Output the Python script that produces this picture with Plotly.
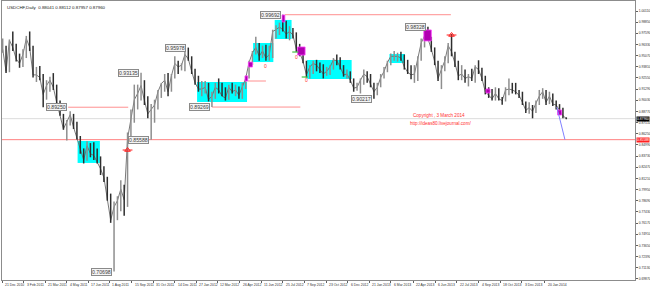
import numpy as np
import pandas as pd
import plotly.graph_objects as go

# ---------------- data (weekly bars) ----------------
first_week = "2010-12-22"
high = [0.9700,0.9620,0.9690,0.9780,0.9640,0.9530,0.9580,0.9730,0.9780,0.9620,
        0.9380,0.9390,0.9300,0.9230,0.9270,0.9310,0.9180,0.9000,0.8850,0.8780,
        0.8880,0.8850,0.8760,0.8600,0.8460,0.8540,0.8520,0.8530,0.8460,0.8370,
        0.8260,0.8140,0.7950,0.7860,0.7920,0.8100,0.8050,0.8640,0.8900,0.9180,
        0.9180,0.9313,0.9230,0.9050,0.8960,0.9010,0.9120,0.9200,0.9300,0.9310,
        0.9300,0.9500,0.9450,0.9420,0.9550,0.9598,0.9500,0.9360,0.9280,0.9220,
        0.9220,0.9200,0.9100,0.9200,0.9250,0.9200,0.9150,0.9180,0.9200,0.9180,
        0.9160,0.9200,0.9280,0.9450,0.9560,0.9720,0.9650,0.9620,0.9630,0.9620,
        0.9800,0.9850,0.9880,0.9969,0.9900,0.9840,0.9820,0.9770,0.9640,0.9600,
        0.9450,0.9400,0.9450,0.9460,0.9430,0.9410,0.9380,0.9400,0.9480,0.9520,
        0.9490,0.9400,0.9350,0.9330,0.9250,0.9200,0.9250,0.9350,0.9330,0.9300,
        0.9200,0.9200,0.9300,0.9380,0.9450,0.9530,0.9560,0.9540,0.9550,0.9520,
        0.9460,0.9400,0.9400,0.9500,0.9700,0.9780,0.9833,0.9720,0.9600,0.9450,
        0.9400,0.9500,0.9650,0.9751,0.9550,0.9450,0.9400,0.9350,0.9300,0.9360,
        0.9400,0.9455,0.9370,0.9280,0.9150,0.9130,0.9150,0.9140,0.9040,0.9150,
        0.9250,0.9200,0.9200,0.9120,0.9100,0.8990,0.8980,0.8950,0.9000,0.9120,
        0.9140,0.9120,0.9100,0.9080,0.9000,0.8960,0.8920,0.8811]
low = [0.9540,0.9310,0.9320,0.9560,0.9440,0.9370,0.9380,0.9480,0.9560,0.9260,
       0.9210,0.9230,0.8925,0.9010,0.9100,0.9120,0.8960,0.8830,0.8670,0.8550,
       0.8720,0.8680,0.8560,0.8400,0.8290,0.8320,0.8360,0.8330,0.8290,0.8160,
       0.8080,0.7870,0.7620,0.70698,0.7650,0.7750,0.7700,0.7800,0.8560,0.8750,
       0.8900,0.9000,0.8950,0.8800,0.8559,0.8750,0.8900,0.9030,0.9100,0.9050,
       0.9100,0.9250,0.9300,0.9340,0.9330,0.9450,0.9300,0.9180,0.9100,0.9050,
       0.9080,0.8990,0.8927,0.9020,0.9080,0.9050,0.9000,0.9010,0.9080,0.9050,
       0.9020,0.9020,0.9130,0.9250,0.9400,0.9520,0.9450,0.9480,0.9450,0.9450,
       0.9480,0.9700,0.9740,0.9780,0.9700,0.9680,0.9700,0.9550,0.9500,0.9420,
       0.9260,0.9250,0.9300,0.9330,0.9310,0.9250,0.9280,0.9290,0.9350,0.9400,
       0.9350,0.9270,0.9250,0.9200,0.9100,0.9110,0.9080,0.9180,0.9200,0.9150,
       0.9022,0.9060,0.9150,0.9250,0.9320,0.9400,0.9450,0.9440,0.9450,0.9350,
       0.9300,0.9240,0.9200,0.9220,0.9450,0.9600,0.9680,0.9550,0.9400,0.9220,
       0.9130,0.9330,0.9420,0.9500,0.9380,0.9230,0.9230,0.9200,0.9160,0.9220,
       0.9200,0.9300,0.9220,0.9070,0.9030,0.9000,0.9000,0.9000,0.8953,0.8990,
       0.9060,0.9080,0.9070,0.9030,0.8950,0.8860,0.8850,0.8800,0.8860,0.8950,
       0.9020,0.8950,0.8960,0.8940,0.8900,0.8860,0.8800,0.8790]
close = [0.9580,0.9330,0.9680,0.9600,0.9470,0.9420,0.9520,0.9700,0.9600,0.9290,
         0.9290,0.9260,0.9070,0.9170,0.9230,0.9150,0.8980,0.8840,0.8680,0.8760,
         0.8840,0.8700,0.8580,0.8450,0.8330,0.8490,0.8400,0.8380,0.8310,0.8230,
         0.8130,0.7900,0.7650,0.7800,0.7870,0.8000,0.7880,0.8570,0.8800,0.9010,
         0.9080,0.9170,0.9000,0.8850,0.8900,0.8950,0.9100,0.9190,0.9230,0.9100,
         0.9280,0.9420,0.9380,0.9400,0.9520,0.9470,0.9330,0.9200,0.9130,0.9130,
         0.9150,0.9010,0.9050,0.9150,0.9120,0.9050,0.9030,0.9150,0.9100,0.9120,
         0.9060,0.9150,0.9250,0.9430,0.9540,0.9600,0.9500,0.9560,0.9480,0.9520,
         0.9780,0.9800,0.9830,0.9800,0.9750,0.9780,0.9740,0.9580,0.9540,0.9440,
         0.9290,0.9380,0.9420,0.9400,0.9350,0.9300,0.9330,0.9380,0.9460,0.9450,
         0.9380,0.9290,0.9300,0.9230,0.9140,0.9150,0.9230,0.9300,0.9270,0.9180,
         0.9100,0.9150,0.9260,0.9330,0.9430,0.9500,0.9500,0.9500,0.9480,0.9380,
         0.9320,0.9290,0.9300,0.9480,0.9650,0.9730,0.9700,0.9580,0.9440,0.9250,
         0.9350,0.9450,0.9620,0.9550,0.9420,0.9280,0.9300,0.9250,0.9270,0.9250,
         0.9380,0.9350,0.9250,0.9100,0.9060,0.9020,0.9080,0.9020,0.9000,0.9120,
         0.9130,0.9120,0.9100,0.9060,0.8980,0.8890,0.8920,0.8880,0.8970,0.9050,
         0.9100,0.8980,0.9050,0.8960,0.8950,0.8890,0.8830,0.8796]

date_ticks = ["2010-12-21","2011-02-03","2011-03-21","2011-05-04","2011-06-17","2011-08-01",
              "2011-09-15","2011-10-31","2011-12-14","2012-01-27","2012-03-12","2012-04-26",
              "2012-06-11","2012-07-25","2012-09-07","2012-10-23","2012-12-06","2013-01-21",
              "2013-03-06","2013-04-22","2013-06-06","2013-07-22","2013-09-04","2013-10-18",
              "2013-12-03","2014-01-20"]
date_labels = ["21 Dec 2010","3 Feb 2011","21 Mar 2011","4 May 2011","17 Jun 2011","1 Aug 2011",
               "15 Sep 2011","31 Oct 2011","14 Dec 2011","27 Jan 2012","12 Mar 2012","26 Apr 2012",
               "11 Jun 2012","25 Jul 2012","7 Sep 2012","23 Oct 2012","6 Dec 2012","21 Jan 2013",
               "6 Mar 2013","22 Apr 2013","6 Jun 2013","22 Jul 2013","4 Sep 2013","18 Oct 2013",
               "3 Dec 2013","20 Jan 2014"]
price_labels = ["1.00110","0.98850","0.97590","0.96330","0.95070","0.93810","0.92550","0.91290",
                "0.90030","0.88770","0.87510","0.86250","0.84990","0.83730","0.82470","0.81210",
                "0.79950","0.78690","0.77430","0.76170","0.74910","0.73650","0.72390","0.71130","0.69870"]

pivot_week = [12, 33, 41, 44, 55, 62, 83, 110, 126]
pivot_value = [0.89250, 0.70698, 0.93135, 0.85588, 0.95978, 0.89269, 0.99692, 0.90217, 0.98328]

# zones (start date, end date, top price, bottom price)
cyan_zones = [("2011-05-26","2011-07-12",0.8544,0.8296),
              ("2012-01-30","2012-05-11",0.9210,0.8984),
              ("2012-05-24","2012-07-05",0.9650,0.9435),
              ("2012-07-09","2012-08-13",0.9910,0.9695),
              ("2012-09-13","2012-12-14",0.9458,0.9244),
              ("2013-03-04","2013-04-04",0.9526,0.9424)]
magenta_zones = [("2012-05-08","2012-05-14",0.9278,0.9221),
                 ("2012-05-15","2012-05-23",0.9435,0.9379),
                 ("2012-07-24","2012-07-30",0.9966,0.9887),
                 ("2012-08-24","2012-09-10",0.9605,0.9514),
                 ("2013-05-14","2013-05-29",0.9797,0.9673),
                 ("2013-09-19","2013-09-27",0.9131,0.9086),
                 ("2014-02-14","2014-02-24",0.8894,0.8837)]
level_lines = [("2011-05-06","2011-09-08",0.89250),
               ("2012-02-29","2012-08-30",0.89269),
               ("2012-05-14","2012-06-20",0.92210),
               ("2012-07-30","2013-07-09",0.99692)]
support_level = 0.85588
trend_line = [("2014-02-13",0.8927),("2014-03-03",0.8559)]
zero_marks = [("2012-06-20",0.9390),("2012-08-23",0.9492),("2012-09-12",0.9232)]
green_marks = [("2012-08-22",0.9548),("2012-09-11",0.9266)]
fractal_marks = [("2011-09-07",0.8442),("2013-07-10",0.9740)]

title_text = "USDCHF,Daily  0.88041 0.88112 0.87957 0.87960"

# ---------------- helpers ----------------
ORIGIN = "2010-12-21"
def bidx(d):
    return int(np.busday_count(ORIGIN, np.datetime64(d, "D")))

weeks = pd.date_range(first_week, periods=len(high), freq="7D")
xw = [bidx(d.strftime("%Y-%m-%d")) for d in weeks]

up_x, up_y, dn_x, dn_y = [], [], [], []
for i in range(len(high)):
    prev = close[i - 1] if i > 0 else close[0]
    tx, ty = (up_x, up_y) if close[i] >= prev else (dn_x, dn_y)
    tx += [xw[i], xw[i], None]
    ty += [low[i], high[i], None]

fig = go.Figure()
fig.add_trace(go.Scatter(x=xw, y=close, mode="lines", line=dict(color="#6a6a6a", width=0.9),
                         hoverinfo="skip", showlegend=False))
fig.add_trace(go.Scatter(x=up_x, y=up_y, mode="lines", line=dict(color="#8e8e8e", width=1.5),
                         hoverinfo="skip", showlegend=False))
fig.add_trace(go.Scatter(x=dn_x, y=dn_y, mode="lines", line=dict(color="#2e2e2e", width=1.5),
                         hoverinfo="skip", showlegend=False))

shapes = []
for s, e, t, b in cyan_zones:
    shapes.append(dict(type="rect", x0=bidx(s), x1=bidx(e), y0=b, y1=t, fillcolor="#00ffff",
                       line=dict(width=0), layer="below"))
for s, e, t, b in magenta_zones:
    shapes.append(dict(type="rect", x0=bidx(s), x1=bidx(e), y0=b, y1=t, fillcolor="#b000b0",
                       line=dict(color="#ff40ff", width=0.8), layer="above"))
for s, e, v in level_lines:
    shapes.append(dict(type="line", x0=bidx(s), x1=bidx(e), y0=v, y1=v,
                       line=dict(color="#ff9090", width=1), layer="below"))
shapes.append(dict(type="line", xref="paper", x0=0, x1=1, y0=support_level, y1=support_level,
                   line=dict(color="#ff8080", width=1), layer="below"))
shapes.append(dict(type="line", xref="paper", x0=0, x1=1, y0=close[-1], y1=close[-1],
                   line=dict(color="#dcdcdc", width=1), layer="below"))
shapes.append(dict(type="line", x0=bidx(trend_line[0][0]), y0=trend_line[0][1],
                   x1=bidx(trend_line[1][0]), y1=trend_line[1][1],
                   line=dict(color="#8080ff", width=1)))
for d, v in green_marks:
    shapes.append(dict(type="line", x0=bidx(d) - 6, x1=bidx(d) + 3, y0=v, y1=v,
                       line=dict(color="#40c040", width=1.2)))

fig.add_trace(go.Scatter(x=[bidx(d) for d, v in fractal_marks], y=[v for d, v in fractal_marks],
                         mode="markers", marker=dict(symbol="triangle-up-open", size=5, color="#ff2020",
                         line=dict(width=1)), hoverinfo="skip", showlegend=False))
fig.add_trace(go.Scatter(x=[bidx(d) for d, v in fractal_marks], y=[v for d, v in fractal_marks],
                         mode="markers", marker=dict(symbol="line-ew", size=7, color="#ff2020",
                         line=dict(width=1, color="#ff2020")), hoverinfo="skip", showlegend=False))

ann = []
FONT = "Liberation Sans"
for w, v in zip(pivot_week, pivot_value):
    left = (w == pivot_week[0])
    ann.append(dict(x=xw[w], y=v, text="%.5f" % v, showarrow=False,
                    xanchor="left" if left else "right", xshift=3 if left else -2,
                    font=dict(family=FONT, size=5.2, color="#404040"),
                    bgcolor="#f4f4f4", bordercolor="#8a8a8a", borderwidth=1, borderpad=0))
for d, v in zero_marks:
    ann.append(dict(x=bidx(d), y=v, text="0", showarrow=False,
                    font=dict(family=FONT, size=5, color="#ff3030")))
for d, lab in zip(date_ticks, date_labels):
    ann.append(dict(x=bidx(d), y=0, yref="paper", text=lab, showarrow=False, xanchor="left",
                    yanchor="top", xshift=1, yshift=-1,
                    font=dict(family=FONT, size=3.4, color="#303030")))
ann.append(dict(x=0.005, y=0.992, xref="paper", yref="paper", text=title_text, showarrow=False,
                xanchor="left", yanchor="top", font=dict(family=FONT, size=4.4, color="#202020")))
ann.append(dict(x=0.691, y=close[-1], xref="paper", text="Copyright , 3 March 2014", showarrow=False,
                xanchor="center", yanchor="bottom", yshift=-1,
                font=dict(family=FONT, size=4.6, color="#ff3030")))
ann.append(dict(x=0.692, y=close[-1], xref="paper", text="http://ideas80.livejournal.com/",
                showarrow=False, xanchor="center", yanchor="top", yshift=0,
                font=dict(family=FONT, size=4.6, color="#ff3030")))
ann.append(dict(x=1, y=close[-1], xref="paper", text="%.5f" % close[-1], showarrow=False,
                xanchor="left", xshift=1, font=dict(family=FONT, size=3.3, color="#ffffff"),
                bgcolor="#000000", borderpad=0))
ann.append(dict(x=1, y=support_level, xref="paper", text="%.5f" % support_level, showarrow=False,
                xanchor="left", xshift=1, font=dict(family=FONT, size=3.3, color="#ffffff"),
                bgcolor="#ff2020", borderpad=0))

x_end = 633 / 0.675
fig.update_layout(
    width=650, height=288, margin=dict(l=2, r=15, t=1, b=8, autoexpand=False),
    paper_bgcolor="#ffffff", plot_bgcolor="#ffffff",
    shapes=shapes, annotations=ann, showlegend=False,
    xaxis=dict(range=[0, x_end], showgrid=False, zeroline=False, showline=True, mirror=True,
               linecolor="#8c8c8c", linewidth=1, ticks="outside", ticklen=2, tickcolor="#606060",
               tickvals=[bidx(d) for d in date_ticks], showticklabels=False, automargin=False),
    yaxis=dict(range=[0.69749, 1.01239], side="right", showgrid=False, zeroline=False,
               showline=True, mirror=True, linecolor="#8c8c8c", linewidth=1,
               ticks="outside", ticklen=2, tickcolor="#606060", automargin=False,
               tickvals=[float(p) for p in price_labels], ticktext=price_labels,
               tickfont=dict(family=FONT, size=3.3, color="#303030")),
)
fig.write_html("out.html")
